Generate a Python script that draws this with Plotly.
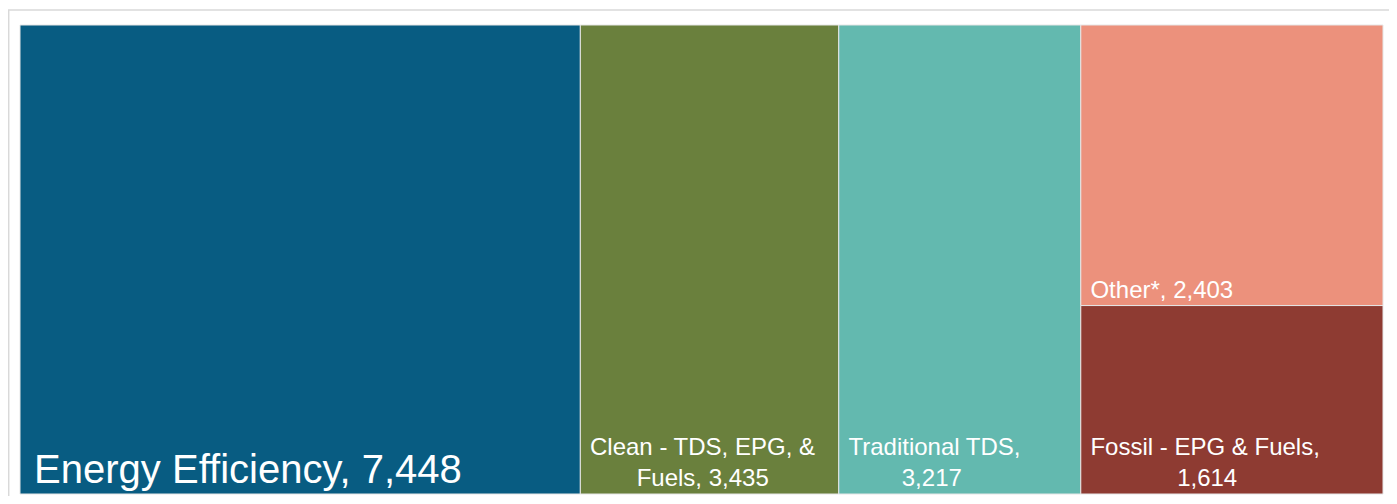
import plotly.graph_objects as go

names = ["Energy Efficiency", "Clean - TDS, EPG, & Fuels", "Traditional TDS", "Other*", "Fossil - EPG & Fuels"]
values = [7448, 3435, 3217, 2403, 1614]
colors = ["#085C82", "#6A803D", "#63B9AF", "#EC917C", "#8E3B32"]
font_sizes = [40, 24, 24, 24, 24]

NB = "\u00a0"
texts = [
    f"{NB}Energy Efficiency, {values[0]:,}",
    f"{NB}Clean - TDS, EPG, &<br>{NB * 8}Fuels, {values[1]:,}",
    f"{NB}Traditional TDS,<br>{NB * 9}{values[2]:,}",
    f"{NB}Other*, {values[3]:,}",
    f"{NB}Fossil - EPG & Fuels,<br>{NB * 14}{values[4]:,}",
]

fig = go.Figure(go.Treemap(
    labels=names,
    parents=[""] * len(names),
    values=values,
    text=texts,
    texttemplate="%{text}",
    textposition="bottom left",
    textfont=dict(family="Liberation Sans, Arial, sans-serif", size=font_sizes, color="white"),
    marker=dict(colors=colors, line=dict(color="#e6e6e6", width=1), pad=dict(t=0, l=0, r=0, b=0)),
    tiling=dict(packing="squarify", squarifyratio=1, pad=0),
    pathbar=dict(visible=False),
    sort=True,
    hoverinfo="label+value",
))

fig.update_layout(
    width=1381, height=488,
    margin=dict(l=12, r=6, t=16.5, b=2),
    paper_bgcolor="white",
    shapes=[
        dict(type="line", xref="paper", yref="paper", x0=-0.0088, x1=1.0044, y0=1.032, y1=1.032,
             line=dict(color="#d9d9d9", width=1.5)),
        dict(type="line", xref="paper", yref="paper", x0=-0.0083, x1=-0.0083, y0=1.032, y1=-0.01,
             line=dict(color="#d9d9d9", width=1.5)),
    ],
)

fig.write_html("out.html")
